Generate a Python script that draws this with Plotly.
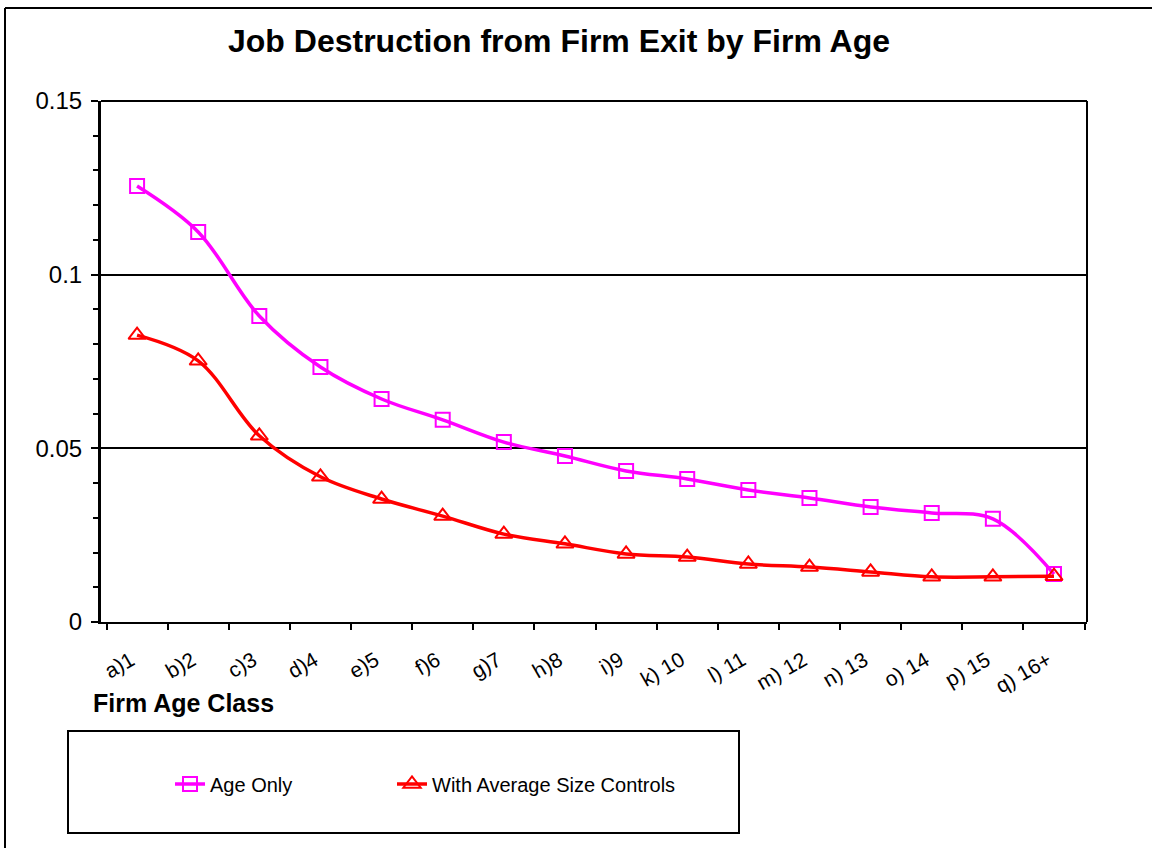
import plotly.graph_objects as go

categories = ["a)1", "b)2", "c)3", "d)4", "e)5", "f)6", "g)7", "h)8", "i)9",
              "k) 10", "l) 11", "m) 12", "n) 13", "o) 14", "p) 15", "q) 16+"]
age_only = [0.1255, 0.1123, 0.0881, 0.0734, 0.0642, 0.0582, 0.0518, 0.0478,
            0.0435, 0.0412, 0.0380, 0.0357, 0.0331, 0.0314, 0.0297, 0.0138]
with_size = [0.0826, 0.0752, 0.0536, 0.0418, 0.0354, 0.0305, 0.0253, 0.0225,
             0.0196, 0.0187, 0.0167, 0.0158, 0.0144, 0.0130, 0.0130, 0.0132]
y_tickvals = [0, 0.05, 0.1, 0.15]
y_ticktext = ["0", "0.05", "0.1", "0.15"]

W, H = 1152, 848
L, R, T, B = 101, 1087, 101, 622

def px_x(p):
    return (p - L) / (R - L)

def px_y(p):
    return (B - p) / (B - T)

FONT = "Liberation Sans, Arial, sans-serif"
xpos = list(range(len(categories)))
label_pos = [i - 0.1 for i in xpos]

fig = go.Figure()
fig.add_trace(go.Scatter(
    x=xpos, y=age_only, name="Age Only", mode="lines+markers", legend="legend",
    line=dict(color="#FF00FF", width=3.5, shape="spline", smoothing=1),
    marker=dict(symbol="square-open", size=14, color="#FF00FF", line=dict(width=2, color="#FF00FF")),
))
fig.add_trace(go.Scatter(
    x=xpos, y=with_size, name="With Average Size Controls", mode="lines+markers", legend="legend2",
    line=dict(color="#FF0000", width=3.5, shape="spline", smoothing=1),
    marker=dict(symbol="triangle-up-open", size=15, color="#FF0000", line=dict(width=2, color="#FF0000")),
))

legend_common = dict(orientation="h", xanchor="left", y=px_y(784), yanchor="middle",
                     yref="paper", font=dict(family=FONT, size=20, color="black"),
                     bgcolor="rgba(0,0,0,0)", borderwidth=0)

fig.update_layout(
    width=W, height=H,
    margin=dict(l=L, r=W - R, t=T, b=H - B),
    paper_bgcolor="white", plot_bgcolor="white",
    font=dict(family=FONT, color="black", size=18),
    title=dict(text="<b>Job Destruction from Firm Exit by Firm Age</b>",
               x=px_x(559), xref="paper", xanchor="center",
               y=1 - 41 / H, yref="container", yanchor="middle",
               font=dict(family=FONT, size=32, color="black")),
    showlegend=True,
    legend=dict(x=px_x(170), **legend_common),
    legend2=dict(x=px_x(392), **legend_common),
)

n = len(categories)
fig.update_xaxes(
    range=[-0.59, n - 0.46],
    tickmode="array", tickvals=label_pos, ticktext=categories,
    tickangle=-30, ticks="", showgrid=False, zeroline=False,
    showline=True, linecolor="black", linewidth=2,
    tickfont=dict(family=FONT, size=21, color="black"),
    ticklabelstandoff=16,
    minor=dict(ticks="outside", tickmode="array",
               tickvals=[i - 0.5 for i in range(n + 1)],
               ticklen=6, tickwidth=1.5, tickcolor="black", showgrid=False),
)
fig.update_yaxes(
    range=[0, 0.15],
    tickmode="array", tickvals=y_tickvals, ticktext=y_ticktext,
    ticks="outside", ticklen=7, tickwidth=1.5, tickcolor="black",
    showgrid=True, gridcolor="black", gridwidth=1.5,
    zeroline=False, showline=True, linecolor="black", linewidth=3,
    tickfont=dict(family=FONT, size=24, color="black"),
    ticklabelstandoff=4,
    minor=dict(ticks="outside", dtick=0.01, tick0=0, ticklen=5,
               tickwidth=1.5, tickcolor="black", showgrid=False),
)

shapes = [
    dict(type="line", xref="paper", yref="paper", x0=0, x1=1, y0=1, y1=1,
         line=dict(color="black", width=2)),
    dict(type="line", xref="paper", yref="paper", x0=1, x1=1, y0=0, y1=1,
         line=dict(color="black", width=2)),
    dict(type="line", xref="paper", yref="paper", x0=px_x(5), x1=px_x(5),
         y0=px_y(860), y1=px_y(8), line=dict(color="black", width=2)),
    dict(type="line", xref="paper", yref="paper", x0=px_x(5), x1=px_x(1170),
         y0=px_y(8), y1=px_y(8), line=dict(color="black", width=2)),
    dict(type="rect", xref="paper", yref="paper", x0=px_x(68), x1=px_x(739),
         y0=px_y(833), y1=px_y(731), line=dict(color="black", width=2),
         fillcolor="rgba(0,0,0,0)"),
]
fig.update_layout(shapes=shapes)

fig.add_annotation(text="<b>Firm Age Class</b>", xref="paper", yref="paper",
                   x=px_x(91), y=px_y(703), xanchor="left", yanchor="middle",
                   showarrow=False, font=dict(family=FONT, size=25, color="black"))

fig.write_html("out.html", config={"displayModeBar": False},
               post_script="document.body.style.margin='0';")
